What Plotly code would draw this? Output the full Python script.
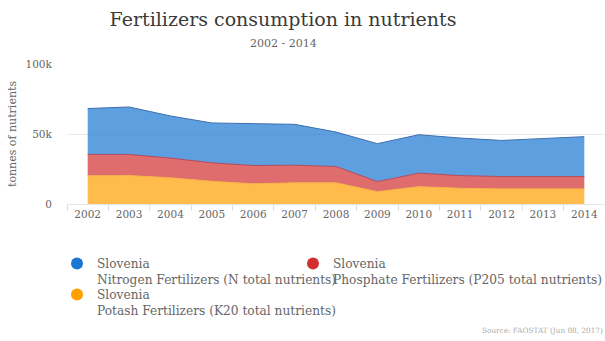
import plotly.graph_objects as go

years = [2002, 2003, 2004, 2005, 2006, 2007, 2008, 2009, 2010, 2011, 2012, 2013, 2014]
# tonnes of nutrients
potash = [20100, 20300, 18700, 16200, 14400, 15100, 15100, 8800, 12400, 11200, 10800, 10800, 10800]
phosphate = [15300, 15100, 14100, 13200, 13100, 12600, 11700, 7200, 9600, 9100, 8800, 8800, 8800]
nitrogen = [32800, 33900, 30100, 28500, 29900, 29200, 24600, 27100, 27500, 26800, 25800, 27100, 28500]

country = "Slovenia"
names = {
    "N": "Nitrogen Fertilizers (N total nutrients)",
    "P": "Phosphate Fertilizers (P205 total nutrients)",
    "K": "Potash Fertilizers (K20 total nutrients)",
}
fill_colors = {"N": "rgba(25,118,210,0.7)", "P": "rgba(211,47,47,0.7)", "K": "rgba(255,160,0,0.7)"}
line_colors = {"N": "#3e6fae", "P": "#b24a5c", "K": "#f5b445"}
marker_colors = {"N": "#1976d2", "P": "#d32f2f", "K": "#ffa000"}
legend_of = {"N": "legend", "P": "legend2", "K": "legend3"}

FONT = "DejaVu Serif"

fig = go.Figure()
# stacked areas: potash bottom, phosphate middle, nitrogen top
for key, vals in [("K", potash), ("P", phosphate), ("N", nitrogen)]:
    fig.add_trace(go.Scatter(
        x=years, y=vals, mode="lines", stackgroup="one",
        line=dict(color=line_colors[key], width=1),
        fillcolor=fill_colors[key], showlegend=False,
        name=country + " " + names[key],
    ))

# legend entries with circular markers
for rank, key in enumerate(["N", "P", "K"]):
    fig.add_trace(go.Scatter(
        x=[None], y=[None], mode="markers",
        marker=dict(color=marker_colors[key], size=12, symbol="circle"),
        name=country + "<br>" + names[key], legendrank=rank + 1, showlegend=True,
        legend=legend_of[key],
    ))

minor_ticks = [y - 0.5 for y in years] + [years[-1] + 0.5]

# plot area in pixels: x 67..605, y 64..204
legend_common = dict(
    orientation="v", xref="paper", yref="paper",
    xanchor="left", yanchor="top",
    valign="top", traceorder="normal", tracegroupgap=0,
    itemsizing="trace", bgcolor="rgba(0,0,0,0)",
    font=dict(family=FONT, size=12.2, color="#666"),
)

fig.update_layout(
    width=605, height=341,
    margin=dict(l=67, r=0, t=64, b=137, autoexpand=False),
    plot_bgcolor="white", paper_bgcolor="white",
    font=dict(family=FONT, color="#666"),
    title=dict(
        text="Fertilizers consumption in nutrients",
        font=dict(family=FONT, size=19, color="#3a3a3a"),
        x=283 / 605, xanchor="center", xref="container",
        y=1 - 19 / 341, yanchor="middle", yref="container",
    ),
    xaxis=dict(
        range=[2001.5, 2014.5], tickvals=years, ticktext=[str(y) for y in years],
        ticks="", showgrid=False, zeroline=False,
        showline=True, linecolor="#e6e6e6", linewidth=1,
        tickfont=dict(family=FONT, size=10.5, color="#666"),
        minor=dict(tickvals=minor_ticks, ticks="outside", ticklen=6,
                   tickcolor="#dddddd", tickwidth=1, showgrid=False),
        fixedrange=True,
    ),
    yaxis=dict(
        range=[0, 100000], tickvals=[0, 50000, 100000], ticktext=["0", "50k", "100k"],
        showgrid=True, gridcolor="#ebebeb", gridwidth=1, zeroline=False,
        ticks="outside", ticklen=12, tickcolor="rgba(0,0,0,0)",
        tickfont=dict(family=FONT, size=10.5, color="#666"),
        title=dict(text="tonnes of nutrients", font=dict(family=FONT, size=11, color="#666"),
                   standoff=6),
        fixedrange=True,
    ),
    legend=dict(x=(57 - 67) / 538, y=(204 - 249) / 140, **legend_common),
    legend2=dict(x=(293 - 67) / 538, y=(204 - 249) / 140, **legend_common),
    legend3=dict(x=(57 - 67) / 538, y=(204 - 280) / 140, **legend_common),
    annotations=[
        dict(text="2002 - 2014", xref="paper", yref="paper",
             x=(283 - 67) / 538, y=(204 - 43) / 140, xanchor="center", yanchor="middle",
             showarrow=False, font=dict(family=FONT, size=11, color="#666")),
        dict(text="Source: FAOSTAT (Jun 08, 2017)", xref="paper", yref="paper",
             x=1, y=(204 - 330) / 140, xanchor="right", yanchor="middle",
             showarrow=False, font=dict(family=FONT, size=7.3, color="#aaaaaa")),
    ],
)

fig.write_html(
    "out.html",
    config={"displayModeBar": False},
    post_script="document.body.style.margin='0';document.body.style.overflow='hidden';",
)
